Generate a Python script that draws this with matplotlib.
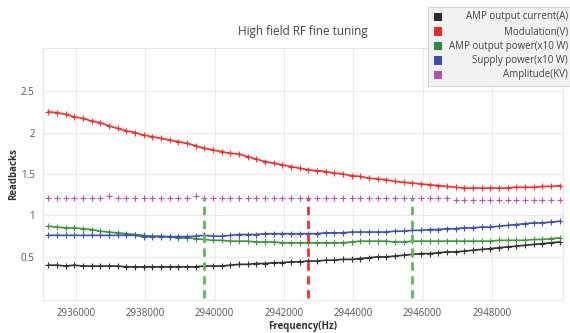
import numpy as np
import matplotlib
matplotlib.use("Agg")
import matplotlib.pyplot as plt
from matplotlib.patches import Rectangle

plt.rcParams["font.family"] = ["Open Sans", "DejaVu Sans"]

# frequency sweep (Hz), 250 Hz steps
freq = np.arange(2935200, 2950000, 250)

amp_current = [0.40, 0.40, 0.39, 0.40, 0.39, 0.39, 0.39, 0.39, 0.39, 0.38,
               0.38, 0.38, 0.38, 0.38, 0.38, 0.38, 0.38, 0.38, 0.39, 0.39,
               0.39, 0.40, 0.41, 0.41, 0.42, 0.42, 0.43, 0.43, 0.44, 0.44,
               0.45, 0.45, 0.46, 0.46, 0.47, 0.47, 0.48, 0.49, 0.50, 0.50,
               0.51, 0.52, 0.53, 0.54, 0.54, 0.55, 0.56, 0.56, 0.57, 0.58,
               0.59, 0.60, 0.61, 0.62, 0.63, 0.64, 0.65, 0.66, 0.67, 0.68]
modulation = [2.25, 2.24, 2.22, 2.19, 2.17, 2.14, 2.12, 2.08, 2.05, 2.02,
              2.00, 1.97, 1.95, 1.93, 1.91, 1.89, 1.87, 1.84, 1.81, 1.79,
              1.77, 1.75, 1.74, 1.71, 1.68, 1.65, 1.63, 1.61, 1.59, 1.57,
              1.55, 1.54, 1.53, 1.51, 1.50, 1.48, 1.47, 1.45, 1.44, 1.43,
              1.41, 1.40, 1.39, 1.38, 1.37, 1.36, 1.35, 1.34, 1.33, 1.33,
              1.33, 1.33, 1.33, 1.33, 1.34, 1.34, 1.34, 1.35, 1.35, 1.36]
amp_power = [0.87, 0.86, 0.85, 0.85, 0.84, 0.83, 0.81, 0.80, 0.79, 0.78,
             0.77, 0.76, 0.75, 0.75, 0.74, 0.73, 0.73, 0.72, 0.71, 0.70,
             0.70, 0.69, 0.69, 0.69, 0.68, 0.68, 0.68, 0.67, 0.67, 0.67,
             0.67, 0.67, 0.67, 0.67, 0.67, 0.68, 0.69, 0.69, 0.69, 0.69,
             0.68, 0.68, 0.69, 0.69, 0.69, 0.69, 0.69, 0.69, 0.69, 0.69,
             0.69, 0.69, 0.70, 0.70, 0.70, 0.70, 0.71, 0.71, 0.72, 0.73]
supply_power = [0.76, 0.76, 0.76, 0.76, 0.76, 0.76, 0.76, 0.76, 0.76, 0.76,
                0.76, 0.745, 0.745, 0.745, 0.745, 0.745, 0.745, 0.75, 0.76, 0.75,
                0.75, 0.76, 0.77, 0.77, 0.77, 0.78, 0.78, 0.78, 0.78, 0.78,
                0.78, 0.78, 0.79, 0.79, 0.79, 0.80, 0.80, 0.80, 0.80, 0.80,
                0.81, 0.81, 0.82, 0.82, 0.83, 0.83, 0.84, 0.84, 0.85, 0.85,
                0.86, 0.86, 0.87, 0.88, 0.89, 0.90, 0.91, 0.91, 0.92, 0.93]
amplitude = [1.21, 1.21, 1.21, 1.21, 1.21, 1.21, 1.21, 1.23, 1.21, 1.21,
             1.21, 1.21, 1.21, 1.21, 1.21, 1.21, 1.21, 1.23, 1.21, 1.21,
             1.21, 1.21, 1.21, 1.21, 1.21, 1.21, 1.21, 1.21, 1.21, 1.21,
             1.21, 1.21, 1.21, 1.21, 1.21, 1.21, 1.21, 1.21, 1.21, 1.21,
             1.21, 1.21, 1.21, 1.21, 1.21, 1.21, 1.21, 1.19, 1.19, 1.19,
             1.19, 1.19, 1.19, 1.19, 1.19, 1.19, 1.19, 1.19, 1.19, 1.19]

# marker frequencies (vertical dashed lines)
mark_freqs = [2939700, 2942700, 2945700]
mark_colors = ["#5cb85c", "#ff2a2a", "#5cb85c"]
mark_top = 1.21

labels = ["AMP output current(A)", "Modulation(V)", "AMP output power(x10 W)",
          "Supply power(x10 W)", "Amplitude(KV)"]
colors = ["#2b2b2b", "#f0262a", "#2e8b3a", "#3a4fae", "#b04fb0"]

fig = plt.figure(figsize=(5.7, 3.33), dpi=100)
ax = fig.add_axes([43 / 570, 1 - 300 / 333, 520 / 570, 252 / 333])

ax.plot(freq, amp_current, color="#333333", lw=1.2, marker="+", ms=4, mew=0.8)
ax.plot(freq, modulation, color="#ff2a2a", lw=1.2, marker="+", ms=4, mew=0.8)
ax.plot(freq, amp_power, color="#3a9a3a", lw=1.2, marker="+", ms=4, mew=0.8)
ax.plot(freq, supply_power, color="#3f51b5", lw=1.2, marker="+", ms=4, mew=0.8)
ax.plot(freq, amplitude, color="#c050c0", lw=0, marker="+", ms=4, mew=0.8)

for f, c in zip(mark_freqs, mark_colors):
    ax.plot([f, f], [0, mark_top], color=c, lw=2, ls=(0, (3, 2)))

ax.set_xlim(2935050, 2950050)
ax.set_ylim(-0.02, 3.02)
ax.set_xticks([2936000, 2938000, 2940000, 2942000, 2944000, 2946000, 2948000])
ax.set_xticklabels(["2936000", "2938000", "2940000", "2942000", "2944000",
                    "2946000", "2948000"])
ax.set_yticks([0.5, 1, 1.5, 2, 2.5])
ax.set_yticklabels(["0.5", "1", "1.5", "2", "2.5"])
ax.tick_params(length=0, labelsize=7, colors="#555555", pad=6)
ax.grid(color="#ececec", lw=0.8)
ax.set_axisbelow(True)
for s in ax.spines.values():
    s.set_color("#e8e8e8")

ax.set_title("High field RF fine tuning", fontsize=8.5, color="#444444", pad=9)
ax.set_xlabel("Frequency(Hz)", fontsize=7, fontweight="bold", color="#333333",
              labelpad=1)
ax.set_ylabel("Readbacks", fontsize=7, fontweight="bold", color="#333333",
              labelpad=1)

# legend box drawn by hand (text right aligned, swatches on the left)
W, H = 570, 333
fig.patches.append(Rectangle((428 / W, 1 - 86 / H), 150 / W, 79 / H,
                             transform=fig.transFigure, facecolor="#f2f2f2",
                             edgecolor="#d8d8d8", lw=0.8))
for i, (lab, c) in enumerate(zip(labels, colors)):
    y = 1 - (17 + i * 14.5) / H
    fig.patches.append(Rectangle((434 / W, y - 4 / H), 8 / W, 8 / H,
                                 transform=fig.transFigure, facecolor=c,
                                 edgecolor="none"))
    fig.text(568 / W, y, lab, ha="right", va="center", fontsize=7,
             color="#444444")

fig.savefig("out.png", dpi=100)
